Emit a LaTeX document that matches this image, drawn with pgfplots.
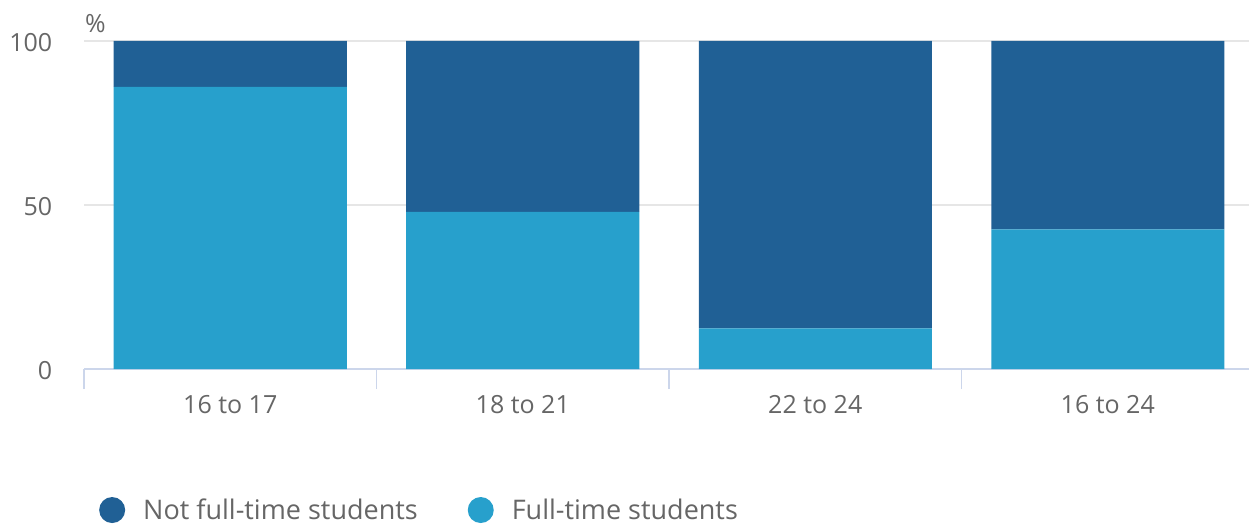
\documentclass[border=0pt]{standalone}
\usepackage{fontspec}
\setmainfont{Open Sans}
\usepackage{pgfplots}
\pgfplotsset{compat=1.18}
\definecolor{darkb}{HTML}{206095}
\definecolor{lightb}{HTML}{27A0CC}
\definecolor{axisc}{HTML}{CCD6EB}
\definecolor{gridc}{HTML}{E6E6E6}
\definecolor{txt}{HTML}{666666}
\begin{document}
\begin{tikzpicture}[x=1pt,y=1pt]
\useasboundingbox (0,0) rectangle (1249,525);
\begin{axis}[
  at={(84pt,156pt)}, anchor=south west,
  scale only axis, width=1170pt, height=328pt,
  ybar stacked, bar width=233pt,
  xmin=-0.5, xmax=3.5, ymin=0, ymax=100,
  xtick={0,1,2,3},
  xticklabels={16 to 17,18 to 21,22 to 24,16 to 24},
  minor xtick={-0.5,0.5,1.5,2.5,3.5},
  ytick={0,50,100},
  /pgf/number format/assume math mode=true,
  ticklabel style={font=\fontsize{25}{29}\selectfont, text=txt},
  x tick label style={yshift=-19pt},
  y tick label style={xshift=-24pt, yshift=-2pt},
  axis x line*=bottom, axis y line*=left,
  x axis line style={draw=axisc, line width=1.3pt, -},
  y axis line style={draw=none},
  major x tick style={draw=none},
  minor x tick style={draw=axisc, line width=1.3pt},
  minor tick length=20pt, tick align=outside,
  major y tick style={draw=none},
  ymajorgrids, grid style={draw=gridc, line width=1.3pt},
  reverse legend,
  legend columns=2,
  legend style={at={(axis description cs:0.0128,-0.430)}, anchor=west, draw=none, fill=none,
    font=\fontsize{27}{31}\selectfont, text=txt, inner sep=0pt,
    /tikz/every even column/.append style={column sep=48pt}},
  legend image code/.code={\fill[#1] (13pt,0pt) circle (13pt);},
  legend cell align=left,
]
\addplot[fill=lightb, draw=none] coordinates {(0,86.0) (1,47.9) (2,12.4) (3,42.6)};
\addplot[fill=darkb, draw=none] coordinates {(0,14.0) (1,52.1) (2,87.6) (3,57.4)};
\legend{\hspace{16pt}Full-time students, \hspace{16pt}Not full-time students}
\end{axis}
\node[anchor=base west, font=\fontsize{25}{29}\selectfont, text=txt, inner sep=0pt] at (85,492) {\%};
\end{tikzpicture}
\end{document}
